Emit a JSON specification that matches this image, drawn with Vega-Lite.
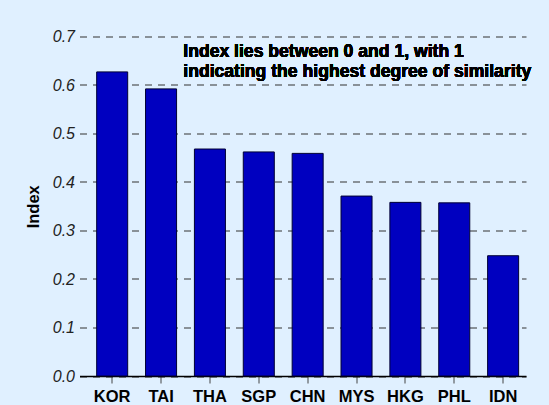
{
  "$schema": "https://vega.github.io/schema/vega-lite/v6.json",
  "width": 446.5,
  "height": 339.5,
  "autosize": {"type": "none"},
  "padding": {"left": 79.5, "top": 36.5, "right": 23, "bottom": 29},
  "background": "#E0F0FF",
  "config": {"view": {"stroke": null}, "font": "Liberation Sans"},
  "data": {
    "values": [
      {"country": "KOR", "index": 0.627},
      {"country": "TAI", "index": 0.592},
      {"country": "THA", "index": 0.468},
      {"country": "SGP", "index": 0.462},
      {"country": "CHN", "index": 0.459},
      {"country": "MYS", "index": 0.371},
      {"country": "HKG", "index": 0.358},
      {"country": "PHL", "index": 0.357},
      {"country": "IDN", "index": 0.248}
    ]
  },
  "layer": [
    {
      "mark": {"type": "bar", "fill": "#0000C0", "stroke": "#000033", "strokeWidth": 1},
      "encoding": {
        "x": {
          "field": "country", "type": "nominal", "sort": null,
          "scale": {"paddingInner": 0.365, "paddingOuter": 0.251, "align": 0.7},
          "axis": {
            "title": null, "labelAngle": 0, "labelFontWeight": "bold", "labelFontSize": 16.5,
            "labelColor": "#000000", "domainColor": "#000000", "domainWidth": 1.5,
            "tickColor": "#444444", "tickSize": 7, "labelPadding": 5, "grid": false
          }
        },
        "y": {
          "field": "index", "type": "quantitative",
          "scale": {"domain": [0, 0.7], "nice": false},
          "axis": {
            "title": "Index", "values": [0, 0.1, 0.2, 0.3, 0.4, 0.5, 0.6, 0.7], "format": ".1f",
            "labelFontStyle": "italic", "labelFontSize": 16, "labelColor": "#222222",
            "ticks": false, "labelPadding": 5, "domain": false,
            "grid": true, "gridDash": [7, 6], "gridColor": "#333333", "gridWidth": 1.2,
            "titleFontSize": 16.5, "titleFontWeight": "bold", "titleColor": "#000000",
            "titleX": -46, "titleY": 169.75, "titleAlign": "center", "titleBaseline": "middle", "titleAngle": -90
          }
        }
      }
    },
    {
      "mark": {"type": "text", "align": "left", "baseline": "alphabetic", "fontWeight": "bold", "fontSize": 17.6, "lineHeight": 19.5, "dx": 22.2, "color": "#000000"},
      "encoding": {
        "x": {"datum": "TAI"},
        "y": {"datum": 0.6575},
        "text": {"value": ["Index lies between 0 and 1, with 1", "indicating the highest degree of similarity"]}
      }
    }
  ]
}
